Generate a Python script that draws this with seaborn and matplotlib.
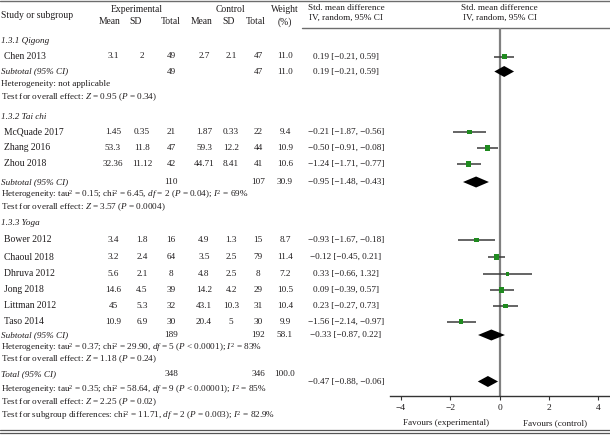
import matplotlib
matplotlib.use("Agg")
import matplotlib.pyplot as plt
import seaborn as sns
import pandas as pd

# ---- data
studies = ["Chen 2013", "McQuade 2017", "Zhang 2016", "Zhou 2018", "Bower 2012",
           "Chaoul 2018", "Dhruva 2012", "Jong 2018", "Littman 2012", "Taso 2014"]
exp_mean = ["3.1", "1.45", "53.3", "32.36", "3.4", "3.2", "5.6", "14.6", "45", "10.9"]
exp_sd = ["2", "0.35", "11.8", "11.12", "1.8", "2.4", "2.1", "4.5", "5.3", "6.9"]
exp_n = [49, 21, 47, 42, 16, 64, 8, 39, 32, 30]
ctl_mean = ["2.7", "1.87", "59.3", "44.71", "4.9", "3.5", "4.8", "14.2", "43.1", "20.4"]
ctl_sd = ["2.1", "0.33", "12.2", "8.41", "1.3", "2.5", "2.5", "4.2", "10.3", "5"]
ctl_n = [47, 22, 44, 41, 15, 79, 8, 29, 31, 30]
weight = [11.0, 9.4, 10.9, 10.6, 8.7, 11.4, 7.2, 10.5, 10.4, 9.9]
smd = [0.19, -1.21, -0.50, -1.24, -0.93, -0.12, 0.33, 0.09, 0.23, -1.56]
ci_lo = [-0.21, -1.87, -0.91, -1.71, -1.67, -0.45, -0.66, -0.39, -0.27, -2.14]
ci_hi = [0.59, -0.56, -0.08, -0.77, -0.18, 0.21, 1.32, 0.57, 0.73, -0.97]
ci_text = ["0.19 [\u22120.21, 0.59]", "\u22120.21 [\u22121.87, \u22120.56]",
           "\u22120.50 [\u22120.91, \u22120.08]", "\u22121.24 [\u22121.71, \u22120.77]",
           "\u22120.93 [\u22121.67, \u22120.18]", "\u22120.12 [\u22120.45, 0.21]",
           "0.33 [\u22120.66, 1.32]", "0.09 [\u22120.39, 0.57]",
           "0.23 [\u22120.27, 0.73]", "\u22121.56 [\u22122.14, \u22120.97]"]

groups = ["1.3.1 Qigong", "1.3.2 Tai chi", "1.3.3 Yoga"]
sub_exp_n = [49, 110, 189]
sub_ctl_n = [47, 107, 192]
sub_weight = ["11.0", "30.9", "58.1"]
sub_smd = [0.19, -0.95, -0.33]
sub_lo = [-0.21, -1.48, -0.87]
sub_hi = [0.59, -0.43, 0.22]
sub_ci_text = ["0.19 [\u22120.21, 0.59]", "\u22120.95 [\u22121.48, \u22120.43]",
               "\u22120.33 [\u22120.87, 0.22]"]
sub_het = ["Heterogeneity: not applicable",
           "Heterogeneity: tau$^2$ = 0.15; chi$^2$ = 6.45, $df$ = 2 ($P$ = 0.04); $I^2$ = 69%",
           "Heterogeneity: tau$^2$ = 0.37; chi$^2$ = 29.90, $df$ = 5 ($P$ < 0.0001); $I^2$ = 83%"]
sub_test = ["Test for overall effect: $Z$ = 0.95 ($P$ = 0.34)",
            "Test for overall effect: $Z$ = 3.57 ($P$ = 0.0004)",
            "Test for overall effect: $Z$ = 1.18 ($P$ = 0.24)"]

total_n = [348, 346]
total_weight = "100.0"
total_smd, total_lo, total_hi = -0.47, -0.88, -0.06
total_ci_text = "\u22120.47 [\u22120.88, \u22120.06]"
total_het = "Heterogeneity: tau$^2$ = 0.35; chi$^2$ = 58.64, $df$ = 9 ($P$ < 0.00001); $I^2$ = 85%"
total_test = "Test for overall effect: $Z$ = 2.25 ($P$ = 0.02)"
subgroup_test = "Test for subgroup differences: chi$^2$ = 11.71, $df$ = 2 ($P$ = 0.003); $I^2$ = 82.9%"

# ---- layout (pixel rows)
study_y = [56.5, 132, 148, 164, 240, 257, 274, 290, 306, 321.5]
head_y = [41, 117, 223]
sub_y = [71.5, 182, 335]
het_y = [83.5, 194.5, 347]
test_y = [97, 207.5, 359.5]
tot_y, tot_y_right, tot_het_y, tot_test_y, subgr_y = 374, 381.5, 389, 402, 416

sns.set_theme(style="white")
plt.rcParams['font.family'] = ['Liberation Serif', 'DejaVu Serif']
plt.rcParams['mathtext.fontset'] = 'custom'
plt.rcParams['mathtext.rm'] = 'Liberation Serif'
plt.rcParams['mathtext.it'] = 'Liberation Serif:italic'

W, H = 610, 441
fig = plt.figure(figsize=(6.1, 4.41), dpi=100)
tab = fig.add_axes([0, 0, 1, 1])
tab.set_xlim(0, W)
tab.set_ylim(H, 0)
tab.axis('off')

fs = 6.9     # names, numbers, headers
fs_long = 6.6
tc = "#1e1b1c"


def txt(x, y, s, ha='center', style='normal', size=fs):
    tab.text(x, y, s, ha=ha, va='center', fontsize=size, fontstyle=style, color=tc)


cols = [113, 142, 171, 204, 231, 258, 285]
ci_x = 346

# header
tab.plot([0, W], [1, 1], color="#6d6d6d", lw=1)
tab.plot([302, W], [28, 28], color="#6d6d6d", lw=1)
txt(1, 15, "Study or subgroup", ha='left')
txt(137, 9, "Experimental")
txt(230, 9, "Control")
txt(285, 9, "Weight")
for x, s in zip([110, 136, 171, 202, 229, 256, 285], ["Mean", "SD", "Total", "Mean", "SD", "Total", "(%)"]):
    txt(x, 22, s)
txt(ci_x, 8, "Std. mean difference", size=fs_long)
txt(ci_x, 18, "IV, random, 95% CI", size=fs_long)
txt(499.5, 8, "Std. mean difference", size=fs_long)
txt(499.5, 18, "IV, random, 95% CI", size=fs_long)

# studies
for i, y in enumerate(study_y):
    txt(4, y, studies[i], ha='left')
    vals = [exp_mean[i], exp_sd[i], exp_n[i], ctl_mean[i], ctl_sd[i], ctl_n[i], f"{weight[i]:.1f}"]
    for x, v in zip(cols, vals):
        txt(x, y, str(v), size=fs_long)
    txt(ci_x, y, ci_text[i], size=fs_long)

# subgroups
for g in range(3):
    txt(1, head_y[g], groups[g], ha='left', style='italic', size=fs_long)
    txt(1, sub_y[g], "Subtotal (95% CI)", ha='left', style='italic', size=fs_long)
    txt(cols[2], sub_y[g], str(sub_exp_n[g]), size=fs_long)
    txt(cols[5], sub_y[g], str(sub_ctl_n[g]), size=fs_long)
    txt(cols[6], sub_y[g], sub_weight[g], size=fs_long)
    txt(ci_x, sub_y[g], sub_ci_text[g], size=fs_long)
    txt(1, het_y[g], sub_het[g], ha='left', size=fs_long)
    txt(1, test_y[g], sub_test[g], ha='left', size=fs_long)

# total
txt(1, tot_y, "Total (95% CI)", ha='left', style='italic', size=fs_long)
txt(cols[2], tot_y, str(total_n[0]), size=fs_long)
txt(cols[5], tot_y, str(total_n[1]), size=fs_long)
txt(cols[6], tot_y, total_weight, size=fs_long)
txt(ci_x, tot_y_right, total_ci_text, size=fs_long)
txt(1, tot_het_y, total_het, ha='left', size=fs_long)
txt(1, tot_test_y, total_test, ha='left', size=fs_long)
txt(1, subgr_y, subgroup_test, ha='left', size=fs_long)
txt(446, 423, "Favours (experimental)", size=fs_long)
txt(555, 423, "Favours (control)", size=fs_long)

tab.plot([0, W], [429.5, 429.5], color="#555555", lw=0.9)
tab.plot([0, W], [432.5, 432.5], color="#555555", lw=0.9)

# ---- forest panel
fx = fig.add_axes([390 / W, (H - 396) / H, 220 / W, 368 / H])
fx.set_xlim(-4.44, 4.48)
fx.set_ylim(396, 28)
fx.axvline(0, color="#808080", lw=1.6, zorder=0)

df = pd.DataFrame({"smd": smd, "lo": ci_lo, "hi": ci_hi, "y": study_y, "weight": weight})
fx.hlines(df["y"], df["lo"], df["hi"], color="#3a3a3a", lw=1.1, zorder=1)
sns.scatterplot(data=df, x="smd", y="y", size="weight", sizes=(6, 15), marker="s",
                color="#1f8a1f", linewidth=0, legend=False, ax=fx, zorder=2)

for est, lo, hi, y in zip(sub_smd + [total_smd], sub_lo + [total_lo],
                          sub_hi + [total_hi], sub_y + [tot_y_right]):
    fx.fill([lo, est, hi, est], [y, y - 5.5, y, y + 5.5], color="black", lw=0, zorder=3)

fx.set_xticks([-4, -2, 0, 2, 4])
fx.set_yticks([])
fx.set_xlabel("")
fx.set_ylabel("")
fx.tick_params(axis='x', bottom=True, length=3, width=0.8, labelsize=6.8, pad=2.5,
               color="#333333", labelcolor=tc)
for s in ["top", "left", "right"]:
    fx.spines[s].set_visible(False)
fx.spines["bottom"].set_color("#333333")
fx.spines["bottom"].set_linewidth(1)
fx.patch.set_alpha(0)

fig.savefig("out.png", dpi=100)
